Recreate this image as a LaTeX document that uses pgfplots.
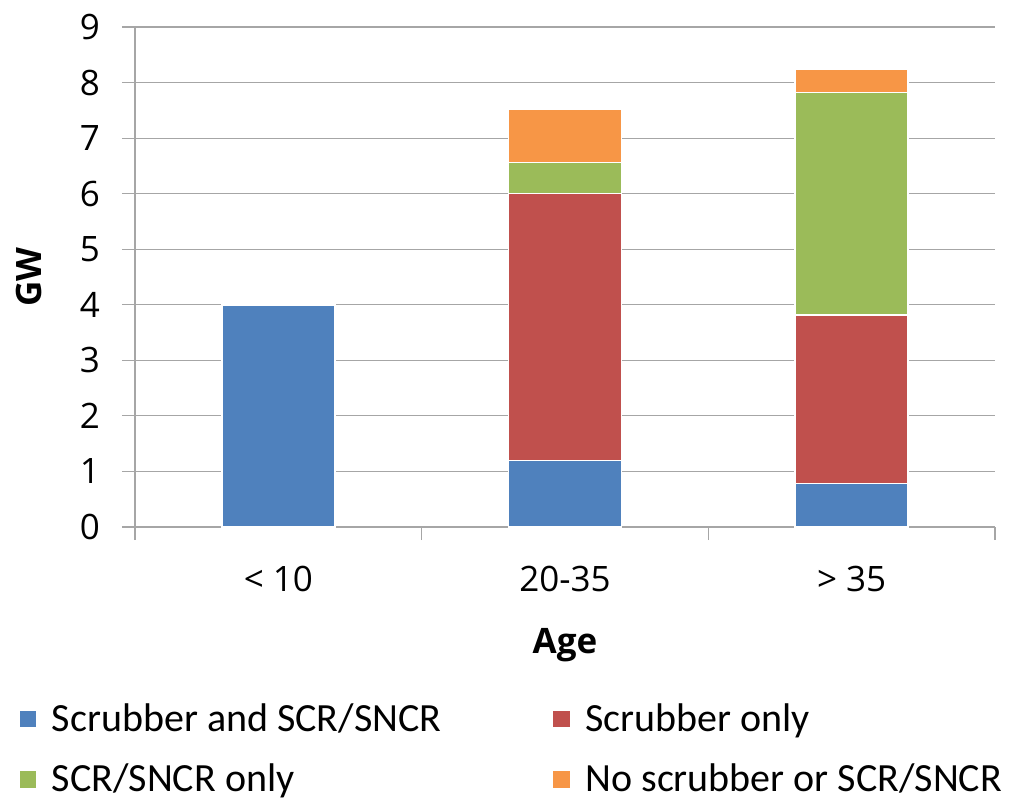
\documentclass[border=0pt]{standalone}
\usepackage{fontspec}
\setmainfont{Open Sans}
\newfontfamily\legfont{Carlito}
\usepackage{pgfplots}
\pgfplotsset{compat=1.18}

\definecolor{cBlue}{HTML}{4F81BD}
\definecolor{cRed}{HTML}{C0504D}
\definecolor{cGreen}{HTML}{9BBB59}
\definecolor{cOrange}{HTML}{F79646}
\definecolor{cGrid}{HTML}{A6A6A6}

\begin{document}
\begin{tikzpicture}
  \begin{axis}[
      name=ax,
      scale only axis,
      width=430pt,
      height=250pt,
      ybar stacked,
      bar width=56.5pt,
      xmin=-0.5, xmax=2.5,
      ymin=0, ymax=9,
      ytick={0,1,...,9},
      axis x line*=bottom,
      axis y line*=left,
      axis line style={cGrid, line width=0.6pt},
      ymajorgrids,
      grid style={cGrid, line width=0.6pt},
      tick align=outside,
      major tick length=6.5pt,
      tick style={cGrid, line width=0.6pt},
      xtick={-0.5,0.5,1.5,2.5},
      xticklabels={},
      extra x ticks={0,1,2},
      extra x tick labels={< 10, 20-35, > 35},
      extra x tick style={major tick length=0pt, grid=none,
        tick label style={yshift=-16pt}},
      /pgf/number format/assume math mode=true,
      tick label style={font=\fontsize{17.5}{21}\selectfont},
      yticklabel style={xshift=-7.5pt},
      xlabel={\textbf{Age}},
      ylabel={\textbf{GW}},
      label style={font=\fontsize{17.5}{21}\selectfont},
      xlabel style={yshift=-5pt},
      ylabel style={yshift=12pt},
      legend columns=2,
      legend cell align=left,
      legend image code/.code={\fill[#1] (0pt,-4.5pt) rectangle (9pt,4.5pt);},
      legend style={
        draw=none, fill=none, inner sep=0pt,
        at={(axis description cs:-0.136,-0.352)}, anchor=north west,
        nodes={inner sep=0pt, font=\legfont\fontsize{20}{24}\selectfont},
        /tikz/every odd column/.append style={column sep=7pt},
        /tikz/every even column/.append style={column sep=0pt},
        row sep=15pt,
      },
    ]
    \addplot[fill=cBlue, draw=white, line width=0.75pt] coordinates {(0,4.0) (1,1.2) (2,0.78)};
    \addplot[fill=cRed, draw=white, line width=0.75pt] coordinates {(0,0) (1,4.8) (2,3.04)};
    \addplot[fill=cGreen, draw=white, line width=0.75pt] coordinates {(0,0) (1,0.56) (2,4.0)};
    \addplot[fill=cOrange, draw=white, line width=0.75pt] coordinates {(0,0) (1,0.96) (2,0.42)};
    \legend{\makebox[250pt][l]{Scrubber and SCR/SNCR}, Scrubber only, SCR/SNCR only, No scrubber or SCR/SNCR}
  \end{axis}
  \pgfresetboundingbox
  \path (ax.south west) ++(-67.5pt,-139.5pt) coordinate (bl);
  \path (ax.north east) ++(9pt,13.5pt) coordinate (tr);
  \path[use as bounding box] (bl) rectangle (tr);
\end{tikzpicture}
\end{document}
